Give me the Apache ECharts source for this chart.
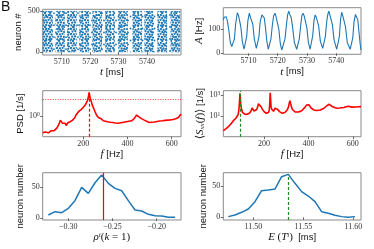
<!DOCTYPE html>
<html><head><meta charset="utf-8">
<script src="https://cdn.jsdelivr.net/npm/echarts@6/dist/echarts.min.js"></script>
<style>html,body{margin:0;padding:0;background:#fff}#c{width:374px;height:249px}</style>
</head><body><div id="c"></div>
<script>
// ---------- data ----------
const rasterStripes = [[5703.3,5706.9],[5707.8,5711.1],[5711.9,5715.3],[5716.2,5719.6],[5720.8,5724.2],[5725.3,5728.7],[5729.9,5733.3],[5734.9,5738.3],[5739.1,5742.5],[5743.7,5747.1],[5748.3,5751.7]];
const rasterBackground = [[5703.3,5752]];
const rasterNeurons = [0, 500];
const activity = [[5701.4,140],[5701.7,150],[5702.0,145],[5702.4,152],[5702.8,135],[5703.3,95],[5703.8,45],[5704.3,28],[5704.8,30],[5705.2,60],[5705.6,120],[5706.2,169],[5706.6,158],[5707.0,150],[5707.4,110],[5707.9,50],[5708.5,17],[5709.0,22],[5709.4,70],[5709.8,135],[5710.3,167],[5710.7,150],[5711.1,145],[5711.5,120],[5712.0,60],[5712.7,21],[5713.2,25],[5713.6,70],[5714.0,130],[5714.6,160],[5715.0,152],[5715.4,148],[5715.8,110],[5716.3,50],[5716.8,17],[5717.3,22],[5717.7,60],[5718.2,120],[5718.6,155],[5719.1,167],[5719.5,150],[5719.9,145],[5720.4,100],[5720.9,40],[5721.4,14],[5722.0,20],[5722.5,60],[5723.0,120],[5723.4,160],[5723.8,176],[5724.2,160],[5724.6,150],[5725.1,110],[5725.7,45],[5726.5,17],[5727.0,22],[5727.4,60],[5727.9,120],[5728.3,158],[5728.7,167],[5729.1,155],[5729.5,148],[5730.0,105],[5730.5,45],[5731.1,17],[5731.6,25],[5732.0,75],[5732.4,135],[5732.8,160],[5733.2,150],[5733.6,148],[5734.0,115],[5734.6,50],[5735.4,21],[5735.9,25],[5736.3,70],[5736.8,135],[5737.2,165],[5737.5,176],[5737.9,158],[5738.3,160],[5738.7,120],[5739.3,55],[5740.2,17],[5740.7,22],[5741.1,70],[5741.5,140],[5741.9,171],[5742.3,155],[5742.7,150],[5743.2,110],[5743.8,45],[5744.8,17],[5745.3,22],[5745.7,65],[5746.1,130],[5746.6,162],[5747.0,150],[5747.4,140],[5747.8,90],[5748.2,40],[5748.5,14]];
const psdPopulation = [[16,0.38],[20,0.40],[24,0.37],[28,0.40],[32,0.39],[37,0.41],[42,0.38],[46,0.42],[50,0.41],[55,0.43],[60,0.41],[64,0.44],[68,0.43],[72,0.46],[76,0.45],[80,0.50],[84,0.52],[88,0.60],[92,0.68],[96,0.78],[99,0.82],[102,0.74],[106,0.66],[110,0.70],[114,0.62],[118,0.66],[122,0.58],[126,0.63],[130,0.68],[135,0.64],[140,0.72],[145,0.70],[150,0.78],[155,0.82],[158,0.78],[162,0.92],[166,1.05],[170,1.15],[174,1.10],[178,1.28],[182,1.22],[186,1.35],[190,1.45],[194,1.40],[198,1.58],[202,1.70],[206,1.66],[210,1.95],[214,2.1],[218,2.4],[221,2.7],[224,3.3],[226,3.9],[228,3.5],[230,2.9],[233,2.6],[236,2.3],[240,1.9],[244,1.7],[248,1.5],[252,1.32],[256,1.22],[260,1.05],[264,1.0],[268,0.92],[272,0.88],[276,0.82],[280,0.86],[285,0.78],[290,0.76],[295,0.80],[300,0.74],[305,0.76],[310,0.72],[316,0.74],[322,0.70],[328,0.73],[334,0.69],[340,0.72],[346,0.67],[352,0.70],[358,0.66],[364,0.71],[370,0.68],[376,0.72],[382,0.70],[388,0.74],[394,0.72],[400,0.76],[406,0.74],[412,0.78],[418,0.76],[424,0.80],[430,0.86],[436,0.96],[441,1.06],[445,1.10],[449,1.02],[453,0.94],[458,0.90],[463,0.86],[468,0.84],[474,0.80],[480,0.78],[486,0.74],[492,0.72],[498,0.69],[504,0.67],[510,0.70],[516,0.68],[522,0.71],[528,0.70],[534,0.73],[540,0.72],[546,0.75],[552,0.74],[558,0.76],[564,0.75],[570,0.78],[576,0.76],[582,0.79],[588,0.78],[594,0.80],[600,0.79],[606,0.82],[612,0.84],[618,0.86],[624,0.88],[630,0.92],[636,0.98],[642,1.12]];
const psdPeakFreq = 227;
const psdPeakValue = 3.9;
const psdThreshold = 2.61;
const spectrumMean = [[17,0.40],[21,0.45],[25,0.52],[29,0.62],[33,0.72],[37,0.85],[41,1.05],[45,1.3],[49,1.6],[53,2.0],[57,2.6],[61,3.4],[65,4.0],[69,5.0],[73,6.2],[77,7.5],[80,9],[83,13],[86,30],[88,80],[90,400],[91.5,1450],[93,600],[95,150],[97,70],[100,35],[103,22],[107,17],[111,15],[115,14],[120,14.5],[125,15],[130,16],[135,19],[139,24],[143,35],[146,60],[149,90],[152,50],[155,30],[159,28],[163,34],[167,42],[171,70],[175,150],[177,230],[180,170],[184,110],[188,70],[192,45],[196,33],[200,26],[205,20],[210,18],[215,19],[220,22],[224,40],[226,200],[228,1650],[230,300],[232,70],[235,45],[239,32],[243,28],[247,36],[250,55],[253,78],[256,60],[260,45],[265,35],[270,26],[276,20],[282,18],[288,19],[294,22],[300,28],[305,40],[310,70],[314,180],[317,290],[320,150],[324,70],[328,42],[333,30],[340,24],[348,22],[355,24],[362,26],[370,32],[378,45],[385,70],[392,110],[398,140],[402,120],[407,80],[412,58],[418,45],[424,38],[430,34],[438,33],[446,35],[454,38],[462,42],[470,55],[477,75],[483,95],[489,125],[494,130],[499,110],[505,85],[512,70],[520,60],[530,55],[540,58],[550,62],[560,65],[570,75],[580,85],[588,82],[596,70],[605,68],[615,72],[625,75],[637,78]];
const spectrumPeakFreq = 91.7;
const rhoHist = [[-0.3226,5.4],[-0.3151,10.8],[-0.3075,9.1],[-0.3000,16.1],[-0.2925,28.5],[-0.2849,50],[-0.2774,40.3],[-0.2698,57.5],[-0.2623,69.9],[-0.2547,56.5],[-0.2472,48.4],[-0.2396,44.6],[-0.2321,28.5],[-0.2245,13.4],[-0.2170,11.8],[-0.2094,6.5],[-0.2019,4.3],[-0.1943,3.8],[-0.1868,1.6],[-0.1792,1.6]];
const rhoMarker = -0.2572;
const periodHist = [[11.475,1.1],[11.4817,3.7],[11.4883,8],[11.495,13.3],[11.5017,25],[11.5083,42.6],[11.515,43.6],[11.5217,45.2],[11.5283,64.9],[11.535,68.6],[11.5417,54.3],[11.5483,41],[11.555,34],[11.5617,25],[11.5683,9],[11.575,6.4],[11.5817,3.2],[11.5883,1.1],[11.595,0],[11.6017,1.1]];
const periodMarker = 11.535;
const periodMarkerTop = 68.6;
// tick labels
const timeTicks = [5710,5720,5730,5740];
const neuronTicks = [0,500];
const activityTicks = [0,100];
const freqTicks = [200,400,600];
const psdTicks = [1];
const spectrumTicks = [10,1000];
const rhoTicks = [-0.30,-0.25,-0.20];
const countTicks = [0,50];
const periodTicks = [11.50,11.55,11.60];

// ---------- styling ----------
const BLUE = '#1f77b4', RED = '#ff0000', GREEN = '#1e8c1e';
function makePattern(w,h,pts,r){
  const c=document.createElement('canvas');c.width=w;c.height=h;
  const g=c.getContext('2d');g.fillStyle=BLUE;
  pts.forEach(p=>{g.beginPath();g.arc(p[0],p[1],r,0,Math.PI*2);g.fill();});
  return c;
}
const densePat = {image: makePattern(14,14,[[1.2,1.1],[4.0,1.5],[6.8,1.0],[9.5,1.8],[12.4,1.2],[2.5,3.6],[5.4,3.2],[8.2,4.0],[11.0,3.5],[13.0,4.4],[1.0,6.0],[3.9,6.3],[6.6,5.8],[9.6,6.5],[12.2,6.8],[2.2,8.7],[5.1,8.4],[7.9,9.0],[10.8,8.6],[13.0,9.6],[1.3,11.3],[4.2,11.0],[6.9,11.6],[9.4,11.2],[12.1,12.0],[3.0,13.0],[8.3,13.0]],1.15), repeat:'repeat'};
const sparsePat = {image: makePattern(12,12,[[2,3],[8,8.5],[6,1.2],[10.5,4.5]],0.9), repeat:'repeat'};

const serif = "'Liberation Serif','DejaVu Serif',serif";
const sans = "'Liberation Sans','DejaVu Sans',sans-serif";
const rich = {
  i:{fontFamily:serif,fontStyle:'italic',fontSize:11,color:'#111'},
  r:{fontFamily:serif,fontSize:11,color:'#111'},
  s:{fontFamily:sans,fontSize:9.5,color:'#111'},
  sup:{fontFamily:serif,fontStyle:'italic',fontSize:7,verticalAlign:'top',color:'#111'},
  sub:{fontFamily:serif,fontStyle:'italic',fontSize:7,verticalAlign:'bottom',color:'#111'}
};
const tickRich = {sup:{fontFamily:serif,fontSize:5.5,verticalAlign:'top',color:'#333',padding:[0,0,3,0]}, b:{fontFamily:serif,fontSize:8,color:'#333'}};

const grids = [
  {left:42.7, top:9.3, width:138.3, height:45.7},
  {left:223.3, top:7.7, width:137.7, height:46.6},
  {left:42.7, top:90.7, width:138.3, height:46},
  {left:223.3, top:90.7, width:137.7, height:46},
  {left:42.7, top:172.7, width:138.3, height:47.3},
  {left:223.3, top:172.7, width:137.7, height:47.3}
].map(g=>Object.assign({show:true,borderColor:'#8a8a8a',borderWidth:1,backgroundColor:'#fff',containLabel:false},g));

function axis(idx, opt){
  const a = {
    gridIndex: idx, type: opt.type||'value', min: opt.min, max: opt.max,
    axisLine:{show:false}, splitLine:{show:false},
    axisTick:{show:true, inside:false, length:2.5, lineStyle:{color:'#444',width:0.8}, customValues: opt.ticks},
    axisLabel:{show:true, margin:opt.margin||3, fontFamily:serif, fontSize:8, color:'#333', customValues: opt.ticks, formatter: opt.fmt, rich: tickRich},
    name: opt.name, nameLocation:'middle', nameGap: opt.gap, nameRotate: opt.rot,
    nameTextStyle:{fontFamily:sans, fontSize:9.5, color:'#111', rich: rich}
  };
  if (opt.type==='log') a.logBase = 10;
  return a;
}
const fmtInt = v => String(v);
const fmtPow = v => '{b|10}{sup|' + Math.round(Math.log10(v)) + '}';
const fmt2 = v => (v<0?'\u2212':'') + Math.abs(v).toFixed(2);

const xAxes = [
  axis(0,{min:5703.3,max:5752,ticks:timeTicks,fmt:fmtInt,name:'{i|t} {s|[ms]}',gap:9}),
  axis(1,{min:5701.4,max:5748.5,ticks:timeTicks,fmt:fmtInt,name:'{i|t} {s|[ms]}',gap:9}),
  axis(2,{min:16,max:642,ticks:freqTicks,fmt:fmtInt,name:'{i|f} {s|[Hz]}',gap:9}),
  axis(3,{min:16.5,max:637,ticks:freqTicks,fmt:fmtInt,name:'{i|f} {s|[Hz]}',gap:9}),
  axis(4,{min:-0.329,max:-0.1725,ticks:rhoTicks,fmt:fmt2,name:'{i|\u03c1}{sup|i}{r|(}{i|k}{r| = 1)}',gap:9}),
  axis(5,{min:11.47,max:11.6077,ticks:periodTicks,fmt:fmt2,name:'{i|E} {r|(}{i|T}{sup|i}{r|)}  {s|[ms]}',gap:9})
];
const yAxes = [
  axis(0,{min:-33,max:521,ticks:neuronTicks,fmt:fmtInt,name:'neuron #',gap:17}),
  axis(1,{min:-4,max:190,ticks:activityTicks,fmt:fmtInt,name:'{i|A} {s|[Hz]}',gap:12}),
  axis(2,{type:'log',min:0.304,max:4.3,ticks:psdTicks,fmt:fmtPow,name:'PSD [1/s]',gap:17}),
  axis(3,{type:'log',min:0.107,max:2570,ticks:spectrumTicks,fmt:fmtPow,name:'{r|\u27e8}{i|S}{sub|xx}{r|(}{i|f}{r|)\u27e9} {s|[1/s]}',gap:14}),
  axis(4,{min:-2.7,max:73.7,ticks:countTicks,fmt:fmtInt,name:'neuron number',gap:17}),
  axis(5,{min:-4.3,max:71.3,ticks:countTicks,fmt:fmtInt,name:'neuron number',gap:13})
];

function stripeItem(pat){
  return function(params, api){
    const p0 = api.coord([api.value(0), rasterNeurons[1]]);
    const p1 = api.coord([api.value(1), rasterNeurons[0]]);
    return {type:'rect', shape:{x:p0[0], y:p0[1], width:p1[0]-p0[0], height:p1[1]-p0[1]}, style:{fill:pat}};
  };
}
const noMarkSym = ['none','none'];
const series = [
  {type:'custom', xAxisIndex:0, yAxisIndex:0, data:rasterBackground, renderItem:stripeItem(sparsePat), silent:true, encode:{x:[0,1]}},
  {type:'custom', xAxisIndex:0, yAxisIndex:0, data:rasterStripes, renderItem:stripeItem(densePat), silent:true, encode:{x:[0,1]}},
  {type:'line', xAxisIndex:1, yAxisIndex:1, data:activity, showSymbol:false, lineStyle:{color:BLUE,width:1.1}},
  {type:'line', xAxisIndex:2, yAxisIndex:2, data:psdPopulation, showSymbol:false, lineStyle:{color:RED,width:1.6},
    markLine:{silent:true, symbol:noMarkSym, label:{show:false}, data:[
      {yAxis:psdThreshold, lineStyle:{color:RED,width:0.8,type:[1,1.5]}},
      [{coord:[psdPeakFreq,0.304], lineStyle:{color:RED,width:1.2,type:[3,2]}},{coord:[psdPeakFreq,psdPeakValue]}]
    ]}},
  {type:'line', xAxisIndex:3, yAxisIndex:3, data:spectrumMean, showSymbol:false, lineStyle:{color:RED,width:1.6},
    markLine:{silent:true, symbol:noMarkSym, label:{show:false}, data:[
      {xAxis:spectrumPeakFreq, lineStyle:{color:GREEN,width:1.2,type:[3,2]}}
    ]}},
  {type:'line', xAxisIndex:4, yAxisIndex:4, data:rhoHist, showSymbol:false, lineStyle:{color:BLUE,width:1.5},
    markLine:{silent:true, symbol:noMarkSym, label:{show:false}, data:[
      {xAxis:rhoMarker, lineStyle:{color:RED,width:1.2,type:'solid'}}
    ]}},
  {type:'line', xAxisIndex:5, yAxisIndex:5, data:periodHist, showSymbol:false, lineStyle:{color:BLUE,width:1.5},
    markLine:{silent:true, symbol:noMarkSym, label:{show:false}, data:[
      [{coord:[periodMarker,-4.3], lineStyle:{color:GREEN,width:1.2,type:[3,2]}},{coord:[periodMarker,periodMarkerTop]}]
    ]}}
];

const chart = echarts.init(document.getElementById('c'), null, {renderer:'canvas'});
chart.setOption({
  animation:false,
  backgroundColor:'#fff',
  grid: grids, xAxis: xAxes, yAxis: yAxes, series: series,
  graphic:[{type:'text', left:1, top:0, style:{text:'B', fontFamily:sans, fontSize:14, fill:'#111'}}]
});
</script></body></html>
